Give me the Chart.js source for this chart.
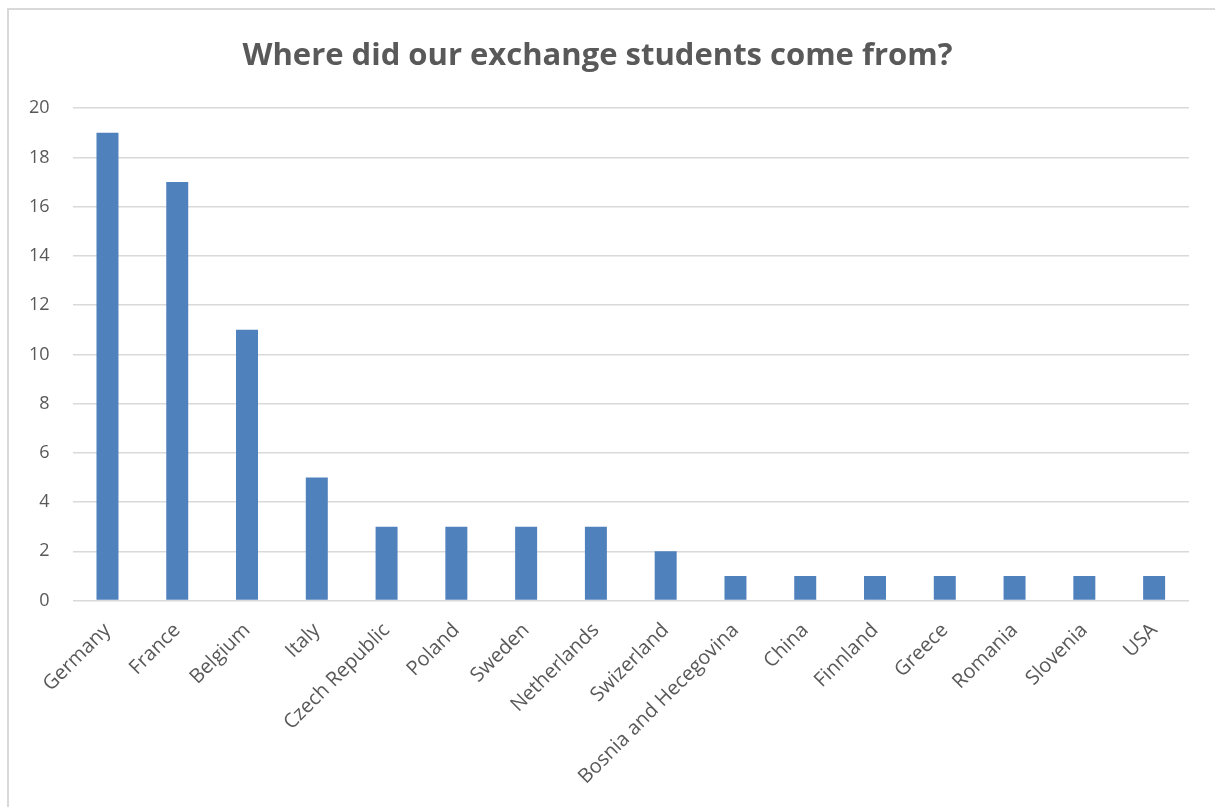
<!DOCTYPE html>
<html>
<head>
<meta charset="utf-8">
<script src="https://cdn.jsdelivr.net/npm/chart.js@4"></script>
<style>
  body { margin: 0; background: #fff; }
  #wrap { position: absolute; left: 0; top: 0; width: 1215px; height: 807px; }
  #frame { position: absolute; left: 7px; top: 8px; width: 1300px; height: 900px; border: 2px solid #d9d9d9; pointer-events: none; }
</style>
</head>
<body>
<div id="wrap"><canvas id="fila"></canvas></div>
<div id="frame"></div>
<script>
// Países de origen y número de estudiantes
const countries = ['Germany', 'France', 'Belgium', 'Italy', 'Czech Republic', 'Poland', 'Sweden', 'Netherlands',
  'Swizerland', 'Bosnia and Hecegovina', 'China', 'Finnland', 'Greece', 'Romania', 'Slovenia', 'USA'];
const students = [19, 17, 11, 5, 3, 3, 3, 3, 2, 1, 1, 1, 1, 1, 1, 1];
const yTicks = [0, 2, 4, 6, 8, 10, 12, 14, 16, 18, 20];

document.addEventListener('DOMContentLoaded', function() {
    const ctx = document.getElementById('fila').getContext('2d');
    new Chart(ctx, {
        type: 'bar',
        data: {
            labels: countries,
            datasets: [{
                label: 'Students',
                data: students,
                backgroundColor: '#4f81bd',
                borderWidth: 0,
                barPercentage: 0.63,
                categoryPercentage: 0.5
            }]
        },
        options: {
            responsive: true,
            maintainAspectRatio: false,
            animation: false,
            layout: { padding: { left: 6, right: 26, top: 10, bottom: 8 } },
            plugins: {
                legend: { display: false },
                tooltip: { enabled: false },
                title: {
                    display: true,
                    text: 'Where did our exchange students come from?',
                    color: '#595959',
                    font: { family: 'Open Sans', size: 31, weight: 'bold' },
                    padding: { top: 28, bottom: 33 }
                }
            },
            scales: {
                y: {
                    min: 0,
                    max: 20,
                    afterBuildTicks: axis => { axis.ticks = yTicks.map(v => ({ value: v })); },
                    border: { display: false },
                    grid: { color: '#d9d9d9', lineWidth: 1.5, drawTicks: false },
                    ticks: { color: '#595959', font: { family: 'Open Sans', size: 18 }, padding: 23 }
                },
                x: {
                    border: { display: false },
                    grid: { display: false },
                    ticks: { color: '#595959', font: { family: 'Open Sans', size: 20 }, minRotation: 45, maxRotation: 45, padding: 10 }
                }
            }
        }
    });
});
</script>
</body>
</html>
